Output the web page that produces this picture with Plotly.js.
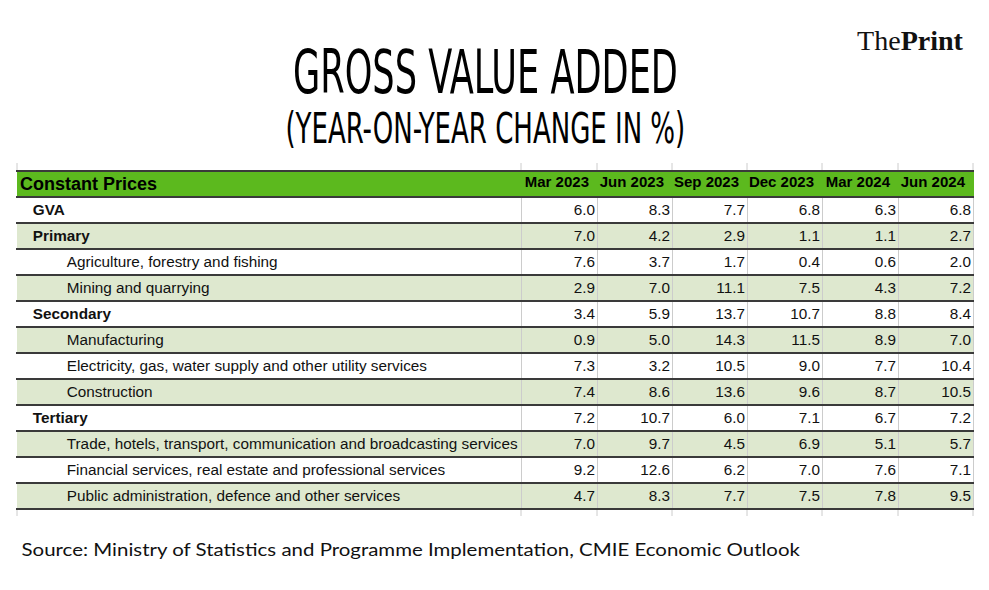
<!DOCTYPE html>
<html>
<head>
<meta charset="utf-8">
<script src="https://cdn.plot.ly/plotly-3.0.1.min.js"></script>
<style>
html,body{margin:0;padding:0;background:#ffffff;}
#chart{width:989px;height:590px;}
</style>
</head>
<body>
<div id="chart"></div>
<script>
// ---------- data ----------
const quarters = ['Mar 2023', 'Jun 2023', 'Sep 2023', 'Dec 2023', 'Mar 2024', 'Jun 2024'];
const sectors = [
  'GVA',
  'Primary',
  'Agriculture, forestry and fishing',
  'Mining and quarrying',
  'Secondary',
  'Manufacturing',
  'Electricity, gas, water supply and other utility services',
  'Construction',
  'Tertiary',
  'Trade, hotels, transport, communication and broadcasting services',
  'Financial services, real estate and professional services',
  'Public administration, defence and other services'
];
const sectorLevel = [0, 0, 1, 1, 0, 1, 1, 1, 0, 1, 1, 1];
const mar2023 = [6.0, 7.0, 7.6, 2.9, 3.4, 0.9, 7.3, 7.4, 7.2, 7.0, 9.2, 4.7];
const jun2023 = [8.3, 4.2, 3.7, 7.0, 5.9, 5.0, 3.2, 8.6, 10.7, 9.7, 12.6, 8.3];
const sep2023 = [7.7, 2.9, 1.7, 11.1, 13.7, 14.3, 10.5, 13.6, 6.0, 4.5, 6.2, 7.7];
const dec2023 = [6.8, 1.1, 0.4, 7.5, 10.7, 11.5, 9.0, 9.6, 7.1, 6.9, 7.0, 7.5];
const mar2024 = [6.3, 1.1, 0.6, 4.3, 8.8, 8.9, 7.7, 8.7, 6.7, 5.1, 7.6, 7.8];
const jun2024 = [6.8, 2.7, 2.0, 7.2, 8.4, 7.0, 10.4, 10.5, 7.2, 5.7, 7.1, 9.5];
const headerLabel = 'Constant Prices';
const titleText = 'GROSS VALUE ADDED';
const subtitleText = '(YEAR-ON-YEAR CHANGE IN %)';
const sourceText = 'Source: Ministry of Statistics and Programme Implementation, CMIE Economic Outlook';

const seriesByQuarter = [mar2023, jun2023, sep2023, dec2023, mar2024, jun2024];

// ---------- layout constants ----------
const W = 989, H = 590;
const tableLeft = 17, tableRight = 973, tableTop = 171, rowH = 26;
const labelColW = 504;
const valueColW = [76, 75, 75, 75, 76, 75];
const fx = px => px / W;
const fy = px => 1 - px / H;
const NB = '\u00a0';
const nb = s => s.replace(/ /g, NB);

const HEADER_GREEN = '#5cb91e';
const ROW_GREEN = '#dee8cf';
const DARK_LINE = '#3a3a3a';
const LIGHT_LINE = '#cccccc';
const CLEAR = 'rgba(0,0,0,0)';
const TFONT = 'Liberation Sans, Arial, Helvetica, sans-serif';
const BODY_SIZE = 15.3;

const nRows = sectors.length;
const tableBottom = tableTop + rowH * (nRows + 1);
const domYFrom = top => [fy(tableBottom + 25), fy(top)];

const boldLabels = sectors.map((s, i) => (sectorLevel[i] === 0 ? NB.repeat(3) + nb(s) : ''));
const subLabels = sectors.map((s, i) => (sectorLevel[i] === 1 ? NB.repeat(11) + nb(s) : ''));
const rowFill = sectors.map((_, i) => (i % 2 === 0 ? '#ffffff' : ROW_GREEN));
const blankCol = sectors.map(() => '');
const clearHeader = (vals, size, weight) => ({
  values: vals, align: 'left',
  fill: { color: CLEAR }, line: { color: CLEAR, width: 0 },
  font: { family: TFONT, size: size, color: '#000000', weight: weight },
  height: rowH
});
const clearCells = (vals, align, weight, format) => {
  const c = {
    values: vals, align: align,
    fill: { color: CLEAR }, line: { color: CLEAR, width: 0 },
    font: { family: TFONT, size: BODY_SIZE, color: '#111111', weight: weight },
    height: rowH
  };
  if (format) c.format = format;
  return c;
};

// base table: fills and light grid
const baseTable = {
  type: 'table',
  domain: { x: [fx(tableLeft), fx(tableRight)], y: domYFrom(tableTop) },
  columnwidth: [labelColW].concat(valueColW),
  header: {
    values: [''].concat(quarters.map(() => '')),
    fill: { color: HEADER_GREEN },
    line: { color: HEADER_GREEN, width: 1 },
    font: { family: TFONT, size: 15, color: '#000000' },
    height: rowH
  },
  cells: {
    values: [blankCol].concat(quarters.map(() => blankCol)),
    fill: { color: [rowFill].concat(quarters.map(() => rowFill)) },
    line: { color: [CLEAR].concat(quarters.map(() => LIGHT_LINE)), width: 1 },
    font: { family: TFONT, size: 15, color: '#111111' },
    height: rowH
  }
};

// header texts
const headerTable = {
  type: 'table',
  domain: { x: [fx(12), fx(tableRight)], y: domYFrom(tableTop - 3) },
  columnwidth: [labelColW + 5].concat(valueColW),
  header: {
    values: [nb(headerLabel)].concat(quarters.map(q => nb(q))),
    align: ['left'].concat(quarters.map(() => 'right')),
    fill: { color: CLEAR }, line: { color: CLEAR, width: 0 },
    font: { family: TFONT, size: [18].concat(quarters.map(() => 15)), color: '#000000', weight: 'bold' },
    height: rowH
  },
  cells: { values: [[]].concat(quarters.map(() => [])), fill: { color: CLEAR }, line: { color: CLEAR, width: 0 } }
};

// bold aggregate labels
const boldLabelTable = {
  type: 'table',
  domain: { x: [fx(12), fx(560)], y: domYFrom(tableTop - 1) },
  columnwidth: [1],
  header: clearHeader([''], 15, 'bold'),
  cells: clearCells([boldLabels], 'left', 'bold')
};

// indented component labels
const subLabelTable = {
  type: 'table',
  domain: { x: [fx(12), fx(560)], y: domYFrom(tableTop - 1) },
  columnwidth: [1],
  header: clearHeader([''], 15, 'normal'),
  cells: clearCells([subLabels], 'left', 'normal')
};

// value columns
const valueTable = {
  type: 'table',
  domain: { x: [fx(527), fx(979)], y: domYFrom(tableTop - 1) },
  columnwidth: valueColW,
  header: clearHeader(quarters.map(() => ''), 15, 'normal'),
  cells: clearCells(seriesByQuarter, 'right', 'normal', quarters.map(() => '.1f'))
};

// horizontal dark rules and small column ticks
const shapes = [];
for (let i = 0; i <= nRows + 1; i++) {
  const y = fy(tableTop + i * rowH);
  shapes.push({ type: 'line', xref: 'paper', yref: 'paper', x0: fx(tableLeft - 1), x1: fx(tableRight + 1), y0: y, y1: y,
    line: { color: DARK_LINE, width: 2 }, layer: 'above' });
}
const colEdges = [tableLeft, tableLeft + labelColW];
valueColW.forEach(w => colEdges.push(colEdges[colEdges.length - 1] + w));
colEdges.forEach(x => {
  shapes.push({ type: 'line', xref: 'paper', yref: 'paper', x0: fx(x), x1: fx(x), y0: fy(tableTop - 8), y1: fy(tableTop - 1),
    line: { color: LIGHT_LINE, width: 1 }, layer: 'above' });
  shapes.push({ type: 'line', xref: 'paper', yref: 'paper', x0: fx(x), x1: fx(x), y0: fy(tableBottom + 1), y1: fy(tableBottom + 7),
    line: { color: LIGHT_LINE, width: 1 }, layer: 'above' });
});

const annotations = [
  { text: titleText, x: fx(485.5), y: fy(71), xref: 'paper', yref: 'paper', xanchor: 'center', yanchor: 'middle', showarrow: false,
    font: { family: 'Liberation Sans Narrow, DejaVu Sans Condensed, Liberation Sans, Arial, sans-serif', size: 61, color: '#000000' } },
  { text: subtitleText, x: fx(485), y: fy(128), xref: 'paper', yref: 'paper', xanchor: 'center', yanchor: 'middle', showarrow: false,
    font: { family: 'Liberation Sans Narrow, DejaVu Sans Condensed, Liberation Sans, Arial, sans-serif', size: 42, color: '#000000' } },
  { text: 'The<b>Print</b>', x: fx(910), y: fy(41), xref: 'paper', yref: 'paper', xanchor: 'center', yanchor: 'middle', showarrow: false,
    font: { family: 'Liberation Serif, Times New Roman, serif', size: 27, color: '#111111' } },
  { text: sourceText, x: fx(411), y: fy(549), xref: 'paper', yref: 'paper', xanchor: 'center', yanchor: 'middle', showarrow: false,
    font: { family: 'Lato, Open Sans, sans-serif', size: 18, color: '#111111' } }
];
const annotationWidths = [385, 400, 106, 780];

const layout = {
  width: W, height: H,
  margin: { l: 0, r: 0, t: 0, b: 0, pad: 0 },
  paper_bgcolor: '#ffffff',
  plot_bgcolor: '#ffffff',
  showlegend: false,
  shapes: shapes,
  annotations: annotations
};

const gd = document.getElementById('chart');
Plotly.newPlot(gd, [baseTable, headerTable, subLabelTable, boldLabelTable, valueTable], layout, { staticPlot: true, displayModeBar: false }).then(() => {
  // keep rules above the table fills
  const svg = gd.querySelector('svg.main-svg');
  const above = svg && svg.querySelector('.layer-above');
  if (above) svg.appendChild(above);
  // condense display texts to their printed widths
  gd.querySelectorAll('g.annotation').forEach(g => {
    const i = +g.getAttribute('data-index');
    const target = annotationWidths[i];
    const t = g.querySelector('text.annotation-text');
    if (!t || !target) return;
    const bb = t.getBBox();
    if (!bb.width) return;
    const sx = target / bb.width;
    const cx = bb.x + bb.width / 2;
    t.setAttribute('transform', 'translate(' + cx + ',0) scale(' + sx + ',1) translate(' + (-cx) + ',0)');
  });
});
</script>
</body>
</html>
